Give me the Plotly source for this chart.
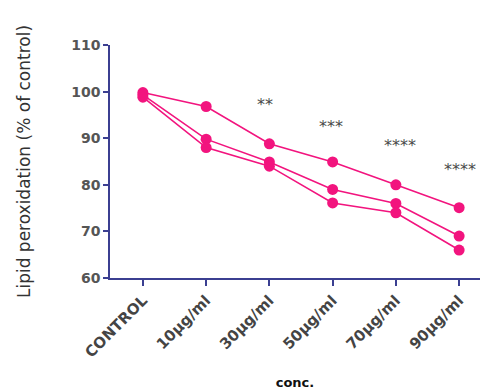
import plotly.graph_objects as go

categories = ["CONTROL", "10µg/ml", "30µg/ml", "50µg/ml", "70µg/ml", "90µg/ml"]
series_a = [99.8, 96.8, 88.8, 84.9, 80.0, 75.1]
series_b = [99.3, 89.8, 84.9, 79.0, 76.0, 69.0]
series_c = [98.8, 88.0, 84.0, 76.1, 74.0, 66.0]
sig_labels = ["**", "***", "****", "****"]
sig_cats = ["30µg/ml", "50µg/ml", "70µg/ml", "90µg/ml"]
sig_y = [97.3, 92.6, 88.4, 83.2]
sig_shift = [-4, -2, 4, 1]

pink = "#f2147e"
axis_col = "#3b3f91"
font_fam = "DejaVu Sans, Liberation Sans, sans-serif"

fig = go.Figure()
for s in (series_a, series_b, series_c):
    fig.add_trace(go.Scatter(
        x=categories, y=s, mode="lines+markers",
        line=dict(color=pink, width=1.6),
        marker=dict(color=pink, size=11),
        showlegend=False, cliponaxis=False,
    ))

for lab, c, yv, sh in zip(sig_labels, sig_cats, sig_y, sig_shift):
    fig.add_annotation(x=c, y=yv, text=lab, showarrow=False, xshift=sh,
                       font=dict(family=font_fam, size=16, color="#4a4a4a"))

# page body has an 8px margin, so the figure is sized/offset to compensate
fig.update_layout(
    width=481, height=382,
    margin=dict(l=102, r=9, t=37, b=112),
    plot_bgcolor="white", paper_bgcolor="white",
    font=dict(family=font_fam, color="#333333"),
)
fig.update_xaxes(
    type="category", range=[-0.52, 5.33], automargin=False,
    showline=True, linecolor=axis_col, linewidth=1.5,
    ticks="outside", tickcolor=axis_col, ticklen=6, tickwidth=1.5,
    tickangle=-45, tickfont=dict(size=15, color="#444444", family=font_fam, weight="bold"),
    showgrid=False, zeroline=False,
    title=dict(text="conc.", font=dict(size=13, color="#111111", family=font_fam, weight="bold"), standoff=20),
)
fig.update_yaxes(
    range=[60, 110], tickvals=[60, 70, 80, 90, 100, 110], automargin=False,
    showline=True, linecolor=axis_col, linewidth=1.5,
    ticks="outside", tickcolor=axis_col, ticklen=5, tickwidth=1.5,
    tickfont=dict(size=14, color="#555555", family=font_fam, weight="bold"),
    showgrid=False, zeroline=False,
    title=dict(text="Lipid peroxidation (% of control)", font=dict(size=17, color="#333333", family=font_fam), standoff=36),
)

fig.write_html("out.html")
